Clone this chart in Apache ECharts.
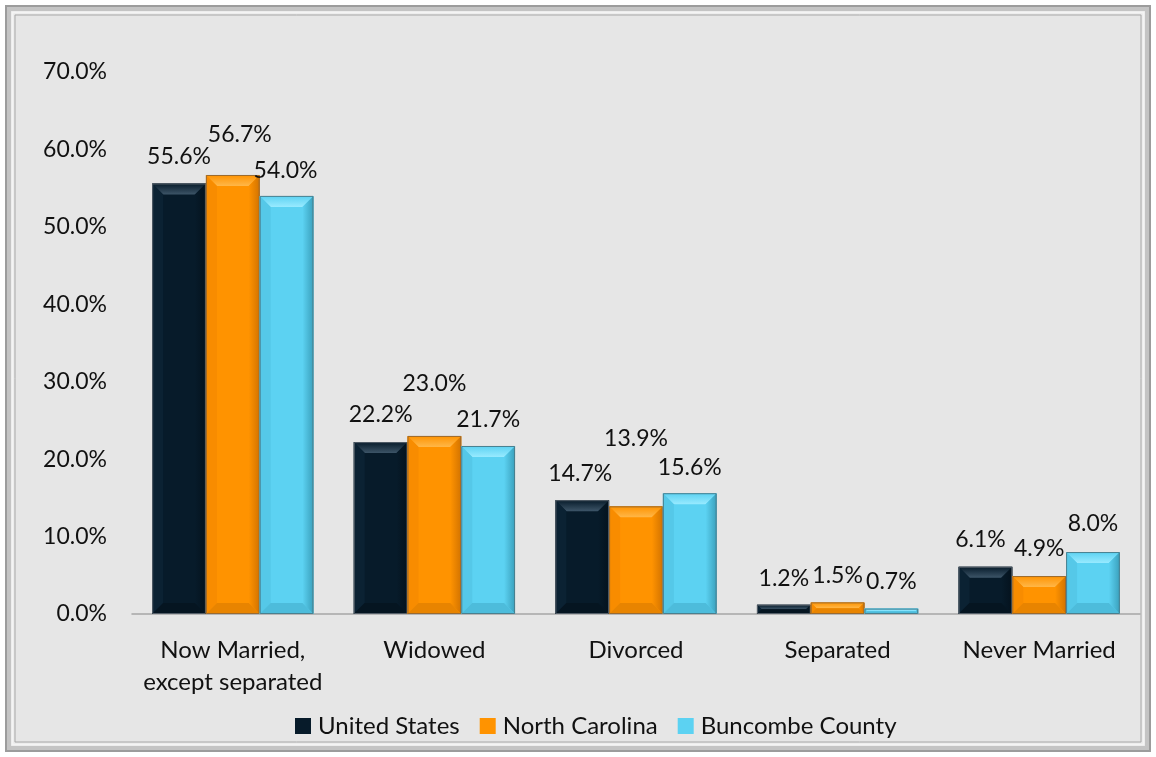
<!DOCTYPE html>
<html>
<head>
<meta charset="utf-8">
<script src="https://cdn.jsdelivr.net/npm/echarts@6/dist/echarts.min.js"></script>
<style>
  html, body { margin: 0; padding: 0; background: #ffffff; }
  #chart { width: 1156px; height: 757px; }
</style>
</head>
<body>
<div id="chart"></div>
<script>
// Marital status shares by geography
const categories = ['Now Married,\nexcept separated', 'Widowed', 'Divorced', 'Separated', 'Never Married'];
const seriesNames = ['United States', 'North Carolina', 'Buncombe County'];
const unitedStates = [55.6, 22.2, 14.7, 1.2, 6.1];
const northCarolina = [56.7, 23.0, 13.9, 1.5, 4.9];
const buncombeCounty = [54.0, 21.7, 15.6, 0.7, 8.0];
const yTicks = { min: 0, max: 70, interval: 10 };

// How far each value label sits above its bar (px), per series
const labelLift = [
  [-27, -28, -27, -26, -27],
  [-40, -52, -68, -27, -27],
  [-25, -26, -26, -27, -28]
];
const labelShift = [
  [0, 0, -2, 0, -5],
  [7, 0, 0, 0, 0],
  [-1, 0, 0, 0, 0]
];

// Bevelled bar facets: main, top, left, right, bottom
const palettes = [
  { main: '#071B2A', top: '#3D5568', left: '#0B2233', right: '#04121D', bottom: '#051521', edge: '#56606A' },
  { main: '#FF9300', top: '#FFB748', left: '#F88C00', right: '#D27300', bottom: '#E88400', edge: '#9A6A30' },
  { main: '#5CD2F2', top: '#98EAFF', left: '#55C8E8', right: '#3AA0BC', bottom: '#4DBCDB', edge: '#4A7F8E' }
];

const NUM_FONT = 23;
const TXT_FONT = 24;
const FONT = 'Lato, "Open Sans", sans-serif';
const values = [unitedStates, northCarolina, buncombeCounty];

function makeRender(si) {
  return function (params, api) {
    const cat = api.value(0);
    const v = api.value(1);
    const base = api.coord([cat, 0]);
    const tip = api.coord([cat, v]);
    const band = api.size([1, 0])[0];
    const groupW = band * 0.8;
    const w = groupW / 3;
    const x0 = base[0] - groupW / 2 + si * w;
    const x1 = x0 + w;
    const y0 = tip[1];
    const y1 = base[1];
    const h = y1 - y0;
    const b = Math.max(0, Math.min(11, h / 2, w / 2));
    const p = palettes[si];
    const idx = params.dataIndex;
    return {
      type: 'group',
      children: [
        { type: 'rect', shape: { x: x0, y: y0, width: w, height: h }, style: { fill: p.main } },
        { type: 'polygon', shape: { points: [[x0, y0], [x1, y0], [x1 - b, y0 + b], [x0 + b, y0 + b]] },
          style: { fill: { type: 'linear', x: 0, y: 0, x2: 0, y2: 1, colorStops: [{ offset: 0, color: p.main }, { offset: 1, color: p.top }] } } },
        { type: 'polygon', shape: { points: [[x0, y0], [x0 + b, y0 + b], [x0 + b, y1 - b], [x0, y1]] }, style: { fill: p.left } },
        { type: 'polygon', shape: { points: [[x1, y0], [x1 - b, y0 + b], [x1 - b, y1 - b], [x1, y1]] },
          style: { fill: { type: 'linear', x: 0, y: 0, x2: 1, y2: 0, colorStops: [{ offset: 0, color: p.main }, { offset: 1, color: p.right }] } } },
        { type: 'polygon', shape: { points: [[x0, y1], [x0 + b, y1 - b], [x1 - b, y1 - b], [x1, y1]] }, style: { fill: p.bottom } },
        { type: 'rect', shape: { x: x0 + 0.5, y: y0 + 0.5, width: w - 1, height: Math.max(0, h - 1) },
          style: { fill: 'none', stroke: p.edge, lineWidth: 1 } },
        { type: 'text', x: (x0 + x1) / 2 + labelShift[si][idx], y: y0 + labelLift[si][idx],
          style: { text: v.toFixed(1) + '%', align: 'center', verticalAlign: 'middle',
                   fontFamily: FONT, fontSize: NUM_FONT, fill: '#111111' } }
      ]
    };
  };
}

const chart = echarts.init(document.getElementById('chart'), null, { renderer: 'canvas' });
chart.setOption({
  animation: false,
  backgroundColor: '#ffffff',
  graphic: [
    { type: 'rect', z: -10, silent: true, shape: { x: 6, y: 6, width: 1144, height: 745 },
      style: { fill: '#E6E6E6', stroke: '#9C9C9C', lineWidth: 2 } },
    { type: 'rect', z: -9, silent: true, shape: { x: 9, y: 9, width: 1138, height: 739 },
      style: { fill: 'none', stroke: '#C4C4C4', lineWidth: 4 } },
    { type: 'rect', z: -9, silent: true, shape: { x: 12.5, y: 12.5, width: 1131, height: 732 },
      style: { fill: 'none', stroke: '#F4F4F4', lineWidth: 2 } },
    { type: 'rect', z: -9, silent: true, shape: { x: 15, y: 15, width: 1126, height: 727 },
      style: { fill: 'none', stroke: '#A8A8A8', lineWidth: 1 } }
  ],
  grid: { left: 132, right: 16, top: 72, bottom: 143, containLabel: false },
  legend: {
    left: 290, top: 709,
    icon: 'rect', itemWidth: 16, itemHeight: 16, itemGap: 20,
    textStyle: { fontFamily: FONT, fontSize: TXT_FONT, color: '#111111', padding: [0, 0, 0, 2] },
    data: seriesNames
  },
  xAxis: {
    type: 'category',
    data: categories,
    axisLine: { lineStyle: { color: '#A6A6A6', width: 1.5 } },
    axisTick: { show: false },
    axisLabel: { fontFamily: FONT, fontSize: TXT_FONT, color: '#111111', lineHeight: 32, margin: 20, interval: 0 }
  },
  yAxis: {
    type: 'value',
    min: yTicks.min, max: yTicks.max, interval: yTicks.interval,
    splitLine: { show: false },
    axisLine: { show: false },
    axisTick: { show: false },
    axisLabel: { fontFamily: FONT, fontSize: NUM_FONT, color: '#111111', margin: 25,
                 formatter: function (v) { return v.toFixed(1) + '%'; } }
  },
  series: seriesNames.map(function (name, si) {
    return {
      name: name,
      type: 'custom',
      renderItem: makeRender(si),
      itemStyle: { color: palettes[si].main },
      encode: { x: 0, y: 1 },
      data: values[si].map(function (v, i) { return [i, v]; })
    };
  })
});
</script>
</body>
</html>
